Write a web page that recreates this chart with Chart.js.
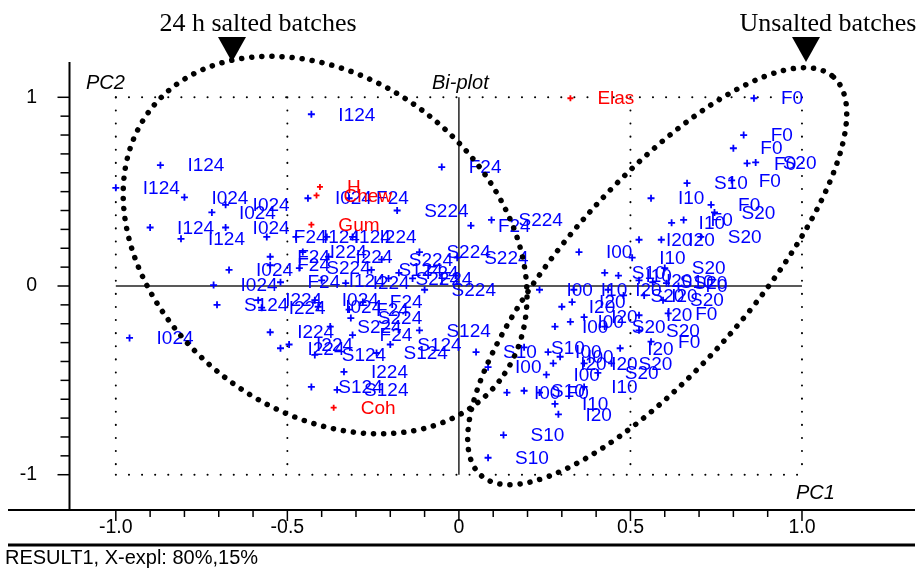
<!DOCTYPE html>
<html>
<head>
<meta charset="utf-8">
<script src="https://cdn.jsdelivr.net/npm/chart.js@4.4.0/dist/chart.umd.min.js"></script>
<style>
  body { margin: 0; background: #fff; }
  #wrap { width: 918px; height: 569px; }
</style>
</head>
<body>
<div id="wrap"><canvas id="biplot" width="918" height="569"></canvas></div>
<script>
// 24 h salted batches (scores)
const saltedNames = ['I124','I124','I124','I024','I024','I024','I124','I124','I024','F24',
  'I024','I024','S124','I024','I224','I224','I224','I024','F24','F24',
  'S224','F24','S224','S224','S224','S224','S124','F24','S224','S124',
  'S124','S124','S124','I224','S124','S124','F24','S224','S224','F24',
  'I224','I224','I024','I024','F24','I124','I124','I224','F24','I224',
  'I224','F24','S224','F24','I124','I224','S224','F24'];
const saltedX = [-0.43,-0.87,-1.00,-0.80,-0.68,-0.72,-0.90,-0.81,-0.68,-0.56,
  -0.67,-0.715,-0.705,-0.96,-0.55,-0.52,-0.495,-0.44,-0.32,-0.05,
  -0.18,0.035,0.095,-0.115,-0.005,-0.225,-0.255,-0.175,-0.10,-0.115,
  -0.20,-0.24,-0.42,-0.335,-0.43,-0.355,-0.32,-0.315,-0.375,-0.31,
  -0.585,-0.575,-0.42,-0.41,-0.28,-0.475,-0.385,-0.31,-0.55,-0.455,
  -0.38,-0.55,-0.465,-0.52,-0.40,-0.33,-0.205,-0.135];
const saltedY = [0.91,0.64,0.52,0.47,0.43,0.39,0.31,0.25,0.31,0.26,
  0.085,0.005,-0.10,-0.275,-0.245,-0.33,-0.31,0.465,0.465,0.63,
  0.40,0.32,0.35,0.18,0.15,0.14,0.085,0.07,-0.02,-0.235,
  -0.31,-0.355,-0.365,-0.455,-0.535,-0.55,-0.125,-0.17,-0.215,-0.26,
  -0.075,-0.115,-0.075,-0.11,-0.085,0.26,0.26,0.26,0.155,0.18,
  0.155,0.11,0.095,0.02,0.03,0.015,0.04,0.04];

// unsalted batches (scores)
const unsaltedNames = ['F0','F0','F0','F0','S20','F0','S10','I10','F0','S20',
  'I10','F0','S20','I20','I20','I00','I10','S20','S10','I10',
  'I20','S10','S20','F0','I00','I10','I20','S20','I20','S20',
  'I20','I20','F0','I20','S20','S20','I00','I00','F0','I20',
  'S10','S10','I00','I00','I00','I20','I20','S20','S20','I00',
  'I10','I00','S10','F0','I10','I20','S10','S10','I20'];
const unsaltedX = [0.86,0.83,0.80,0.84,0.865,0.795,0.665,0.56,0.735,0.745,
  0.62,0.655,0.705,0.525,0.59,0.35,0.505,0.60,0.425,0.465,
  0.525,0.565,0.605,0.64,0.235,0.335,0.435,0.48,0.54,0.595,
  0.30,0.365,0.61,0.525,0.425,0.525,0.28,0.325,0.56,0.47,
  0.05,0.19,0.26,0.295,0.085,0.275,0.365,0.445,0.405,0.255,
  0.365,0.14,0.19,0.235,0.28,0.29,0.13,0.085,0.33];
const unsaltedY = [0.995,0.80,0.73,0.65,0.655,0.56,0.545,0.465,0.43,0.39,
  0.335,0.35,0.26,0.245,0.245,0.18,0.15,0.095,0.07,0.055,
  0.03,0.02,0.015,0.0,-0.02,-0.02,-0.02,-0.05,-0.05,-0.075,
  -0.11,-0.165,-0.145,-0.155,-0.215,-0.235,-0.215,-0.19,-0.295,-0.33,
  -0.35,-0.325,-0.35,-0.375,-0.43,-0.41,-0.41,-0.41,-0.46,-0.47,
  -0.535,-0.565,-0.555,-0.565,-0.625,-0.68,-0.79,-0.91,-0.085];

// sensory variables (loadings)
const varNames = ['Elas','H','Chew','Gum','Coh'];
const varX = [0.325,-0.405,-0.415,-0.43,-0.365];
const varY = [0.995,0.525,0.48,0.325,-0.645];

// axes
const xTickValues = [-1, -0.5, 0, 0.5, 1];
const xTickLabels = ['-1.0', '-0.5', '0', '0.5', '1.0'];
const yTickValues = [1, 0, -1];
const yTickLabels = ['1', '0', '-1'];

function toPoints(xs, ys) {
  return xs.map((x, i) => ({ x: x, y: ys[i] }));
}

const blue = '#0000ff';
const red = '#ff0000';
const sans = '"Liberation Sans", Arial, sans-serif';

// ellipses round the two groups: centre in data units, radii in pixels
const groupRings = [
  { cx: -0.39, cy: 0.217, rx: 221, ry: 166, rot: 38 },
  { cx: 0.578, cy: 0.052, rx: 266, ry: 93, rot: -48.5 }
];

const framePlugin = {
  id: 'frame',
  beforeDatasetsDraw(chart) {
    const ctx = chart.ctx, xs = chart.scales.x, ys = chart.scales.y;
    const area = chart.chartArea;
    const X = v => xs.getPixelForValue(v), Y = v => ys.getPixelForValue(v);
    ctx.save();

    // dotted grid
    ctx.strokeStyle = '#000';
    ctx.lineWidth = 2;
    ctx.lineCap = 'round';
    ctx.setLineDash([0.1, 13]);
    [-1, -0.5, 0.5, 1].forEach(v => {
      ctx.beginPath(); ctx.moveTo(X(v), Y(1)); ctx.lineTo(X(v), Y(-1)); ctx.stroke();
    });
    [1, -1].forEach(v => {
      ctx.beginPath(); ctx.moveTo(X(-1), Y(v)); ctx.lineTo(X(1), Y(v)); ctx.stroke();
    });
    ctx.setLineDash([]);
    ctx.lineCap = 'butt';

    // solid lines through the origin
    ctx.lineWidth = 1.5;
    ctx.strokeStyle = '#222';
    ctx.beginPath(); ctx.moveTo(X(-1), Y(0)); ctx.lineTo(X(1), Y(0)); ctx.stroke();
    ctx.beginPath(); ctx.moveTo(X(0), Y(1)); ctx.lineTo(X(0), Y(-1)); ctx.stroke();

    // frame axes
    ctx.strokeStyle = '#000';
    ctx.lineWidth = 2;
    ctx.beginPath(); ctx.moveTo(area.left, area.top); ctx.lineTo(area.left, area.bottom); ctx.stroke();
    ctx.beginPath(); ctx.moveTo(8, area.bottom); ctx.lineTo(915, area.bottom); ctx.stroke();
    ctx.lineWidth = 3;
    ctx.beginPath(); ctx.moveTo(8, 545); ctx.lineTo(915, 545); ctx.stroke();

    // ticks
    ctx.lineWidth = 1.5;
    for (let i = -10; i <= 10; i++) {
      const v = i / 10, major = i % 5 === 0;
      ctx.beginPath();
      ctx.moveTo(X(v), area.bottom);
      ctx.lineTo(X(v), area.bottom + (major ? 11 : 7));
      ctx.stroke();
      ctx.beginPath();
      ctx.moveTo(area.left, Y(v));
      ctx.lineTo(area.left - (i % 10 === 0 ? 12 : 9), Y(v));
      ctx.stroke();
    }

    ctx.fillStyle = '#000';
    ctx.font = '19.5px ' + sans;
    ctx.textAlign = 'center';
    ctx.textBaseline = 'middle';
    xTickValues.forEach((v, i) => ctx.fillText(xTickLabels[i], X(v), 528));
    ctx.textAlign = 'right';
    yTickValues.forEach((v, i) => ctx.fillText(yTickLabels[i], 37, Y(v)));

    ctx.textAlign = 'left';
    ctx.font = 'italic 20px ' + sans;
    ctx.fillText('PC2', 86, 83);
    ctx.fillText('Bi-plot', 432, 83);
    ctx.fillText('PC1', 796, 493);
    ctx.font = '20px ' + sans;
    ctx.fillText('RESULT1, X-expl: 80%,15%', 5, 558);

    // group captions with arrows
    ctx.font = '26px "Liberation Serif", "Times New Roman", serif';
    ctx.textAlign = 'center';
    ctx.textBaseline = 'alphabetic';
    ctx.fillText('24 h salted batches', 258, 31);
    ctx.fillText('Unsalted batches', 828, 31);
    [[232, 62], [806, 62]].forEach(([tx, ty]) => {
      ctx.beginPath();
      ctx.moveTo(tx - 14, 37); ctx.lineTo(tx + 14, 37); ctx.lineTo(tx, ty);
      ctx.closePath(); ctx.fill();
    });
    ctx.restore();
  },
  afterDatasetsDraw(chart) {
    const ctx = chart.ctx;
    ctx.save();
    ctx.font = '19px ' + sans;
    ctx.textAlign = 'left';
    ctx.textBaseline = 'middle';
    chart.data.datasets.forEach((ds, di) => {
      const meta = chart.getDatasetMeta(di);
      ctx.fillStyle = ds.borderColor;
      meta.data.forEach((el, i) => ctx.fillText(ds.names[i], el.x + 27, el.y + 1));
    });

    // dotted rings
    const xs = chart.scales.x, ys = chart.scales.y;
    ctx.strokeStyle = '#000';
    ctx.lineWidth = 5.5;
    ctx.lineCap = 'round';
    ctx.setLineDash([0.1, 10]);
    groupRings.forEach(r => {
      ctx.beginPath();
      ctx.ellipse(xs.getPixelForValue(r.cx), ys.getPixelForValue(r.cy), r.rx, r.ry,
        r.rot * Math.PI / 180, 0, Math.PI * 2);
      ctx.stroke();
    });
    ctx.restore();
  }
};

const marker = { pointStyle: 'cross', pointRadius: 3.5, pointBorderWidth: 1.8, pointHoverRadius: 3.5 };

new Chart(document.getElementById('biplot'), {
  type: 'scatter',
  data: {
    datasets: [
      Object.assign({ label: '24 h salted', names: saltedNames, data: toPoints(saltedX, saltedY),
        borderColor: blue, backgroundColor: blue }, marker),
      Object.assign({ label: 'Unsalted', names: unsaltedNames, data: toPoints(unsaltedX, unsaltedY),
        borderColor: blue, backgroundColor: blue }, marker),
      Object.assign({ label: 'Variables', names: varNames, data: toPoints(varX, varY),
        borderColor: red, backgroundColor: red }, marker, { pointRadius: 3 })
    ]
  },
  options: {
    responsive: false,
    animation: false,
    devicePixelRatio: 1,
    layout: { padding: { left: 69.5, right: 3, top: 62, bottom: 59 } },
    scales: {
      x: { type: 'linear', display: false, min: -1.135, max: 1.3227 },
      y: { type: 'linear', display: false, min: -1.187, max: 1.187 }
    },
    plugins: {
      legend: { display: false },
      tooltip: { enabled: false }
    }
  },
  plugins: [framePlugin]
});
</script>
</body>
</html>
